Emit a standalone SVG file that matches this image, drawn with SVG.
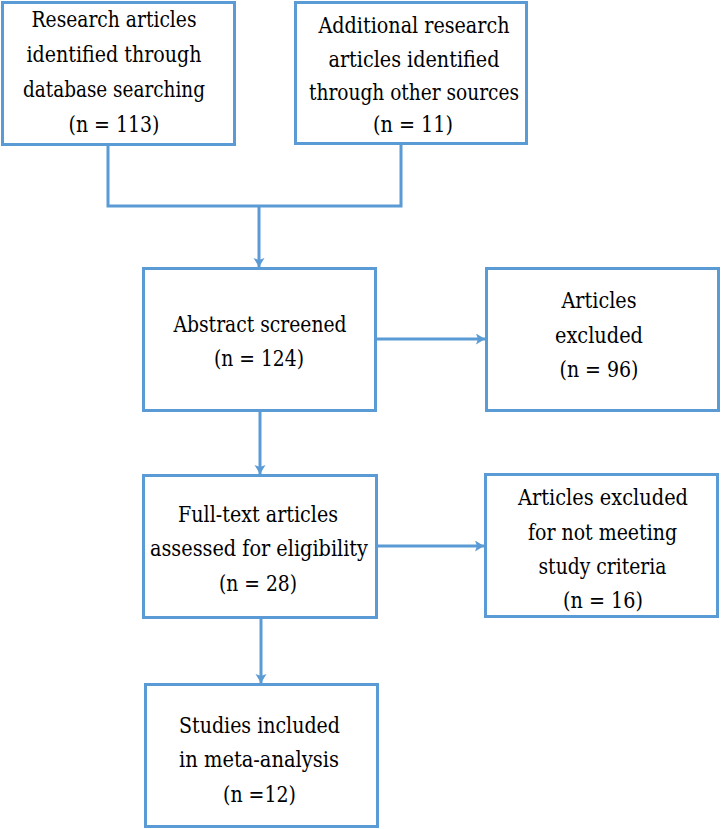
<svg xmlns="http://www.w3.org/2000/svg" width="721" height="829" viewBox="0 0 721 829">
<style>
.box{fill:#ffffff;stroke:#5B9BD5;stroke-width:3}
.conn{fill:none;stroke:#5B9BD5;stroke-width:3}
text{font-family:"DejaVu Serif",serif;font-stretch:condensed;font-size:22px;fill:#000;text-anchor:middle}
</style>
<defs>
<marker id="arr" markerUnits="userSpaceOnUse" markerWidth="12" markerHeight="12" refX="9" refY="5.5" orient="auto">
<path d="M0,0 L9,5.5 L0,11 L2,5.5 z" fill="#5B9BD5"/>
</marker>
</defs>
<rect width="721" height="829" fill="#ffffff"/>
<g id="connectors">
<polyline class="conn" points="108,145 108,206 401,206 401,144"/>
<line class="conn" x1="259" y1="206" x2="259" y2="267" marker-end="url(#arr)"/>
<line class="conn" x1="376" y1="339" x2="485" y2="339" marker-end="url(#arr)"/>
<line class="conn" x1="260" y1="411" x2="260" y2="474" marker-end="url(#arr)"/>
<line class="conn" x1="377" y1="546" x2="484" y2="546" marker-end="url(#arr)"/>
<line class="conn" x1="261" y1="618" x2="261" y2="683" marker-end="url(#arr)"/>
</g>
<g id="n1">
<rect class="box" x="2.5" y="2.5" width="232" height="142"/>
<text x="114" y="27" textLength="165" lengthAdjust="spacingAndGlyphs">Research articles</text>
<text x="114" y="62" textLength="175" lengthAdjust="spacingAndGlyphs">identified through</text>
<text x="114" y="97" textLength="182" lengthAdjust="spacingAndGlyphs">database searching</text>
<text x="114" y="132" textLength="91" lengthAdjust="spacingAndGlyphs">(n = 113)</text>
</g>
<g id="n2">
<rect class="box" x="295.5" y="2.5" width="231" height="141"/>
<text x="414" y="33" textLength="191" lengthAdjust="spacingAndGlyphs">Additional research</text>
<text x="414" y="67" textLength="171" lengthAdjust="spacingAndGlyphs">articles identified</text>
<text x="414" y="100" textLength="210" lengthAdjust="spacingAndGlyphs">through other sources</text>
<text x="413" y="132" textLength="80" lengthAdjust="spacingAndGlyphs">(n = 11)</text>
</g>
<g id="n3">
<rect class="box" x="143.5" y="268.5" width="232" height="142"/>
<text x="260" y="332" textLength="173" lengthAdjust="spacingAndGlyphs">Abstract screened</text>
<text x="259" y="366" textLength="90" lengthAdjust="spacingAndGlyphs">(n = 124)</text>
</g>
<g id="n4">
<rect class="box" x="486.5" y="268.5" width="232" height="142"/>
<text x="599" y="308" textLength="75" lengthAdjust="spacingAndGlyphs">Articles</text>
<text x="599" y="343" textLength="88" lengthAdjust="spacingAndGlyphs">excluded</text>
<text x="599" y="377" textLength="79" lengthAdjust="spacingAndGlyphs">(n = 96)</text>
</g>
<g id="n5">
<rect class="box" x="143.5" y="475.5" width="233" height="142"/>
<text x="258" y="522" textLength="160" lengthAdjust="spacingAndGlyphs">Full-text articles</text>
<text x="259" y="556" textLength="218" lengthAdjust="spacingAndGlyphs">assessed for eligibility</text>
<text x="258" y="591" textLength="78" lengthAdjust="spacingAndGlyphs">(n = 28)</text>
</g>
<g id="n6">
<rect class="box" x="485.5" y="474.5" width="232" height="142"/>
<text x="603" y="505" textLength="170" lengthAdjust="spacingAndGlyphs">Articles excluded</text>
<text x="602.5" y="540" textLength="149" lengthAdjust="spacingAndGlyphs">for not meeting</text>
<text x="602.5" y="574" textLength="128" lengthAdjust="spacingAndGlyphs">study criteria</text>
<text x="603" y="608" textLength="80" lengthAdjust="spacingAndGlyphs">(n = 16)</text>
</g>
<g id="n7">
<rect class="box" x="145.5" y="684.5" width="232" height="142"/>
<text x="259.5" y="733" textLength="161" lengthAdjust="spacingAndGlyphs">Studies included</text>
<text x="259" y="767" textLength="160" lengthAdjust="spacingAndGlyphs">in meta-analysis</text>
<text x="259.5" y="802" textLength="73" lengthAdjust="spacingAndGlyphs">(n =12)</text>
</g>
</svg>
